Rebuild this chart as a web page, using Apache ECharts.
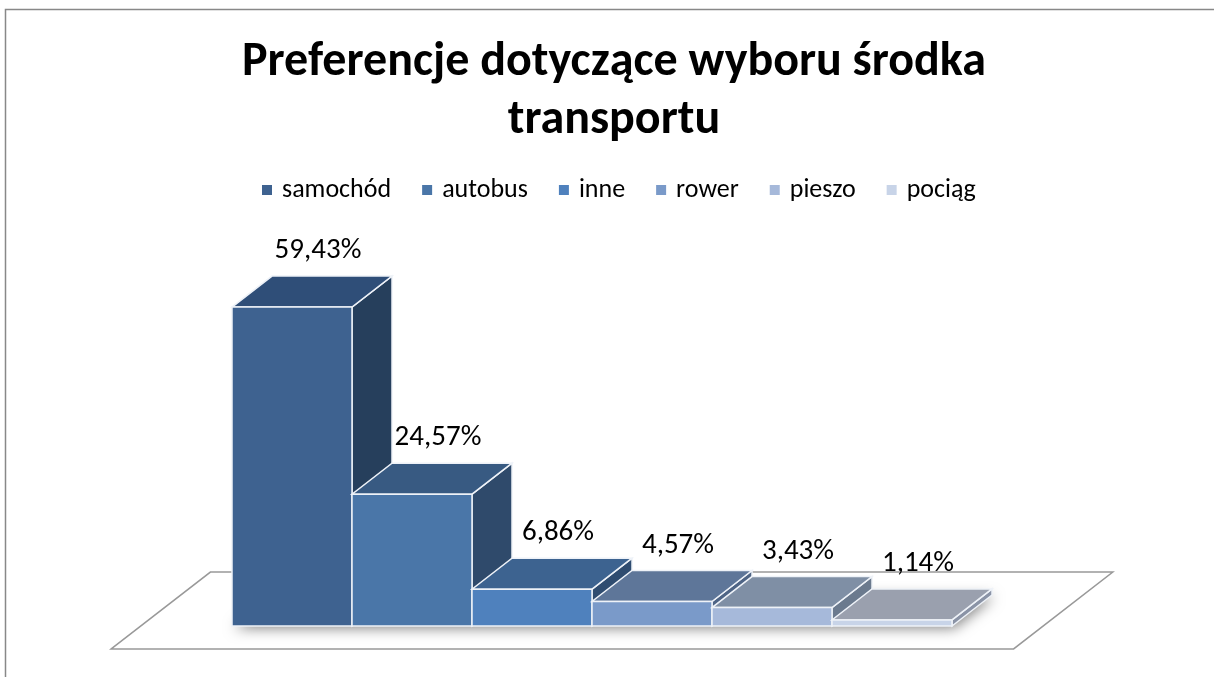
<!DOCTYPE html>
<html>
<head>
<meta charset="utf-8">
<script src="https://cdn.jsdelivr.net/npm/echarts@6/dist/echarts.min.js"></script>
<style>
  html, body { margin: 0; padding: 0; background: #fff; }
  #chart { width: 1214px; height: 677px; }
</style>
</head>
<body>
<div id="chart"></div>
<script>
// data
var categories = ['samochód', 'autobus', 'inne', 'rower', 'pieszo', 'pociąg'];
var values = [59.43, 24.57, 6.86, 4.57, 3.43, 1.14];

// colours of the three visible faces of each 3D bar
var frontColors = ['#3e6290', '#4a76a8', '#4f81bd', '#7a9ac9', '#a6b9da', '#c8d4e8'];
var topColors = ['#2f4e78', '#385a82', '#3d6390', '#5e7699', '#7f8fa5', '#9aa0ae'];
var sideColors = ['#263f5c', '#2f4a6b', '#2f4c70', '#4e6485', '#6b7a8e', '#8a93a6'];

var FONT = 'Carlito, Lato, "Open Sans", sans-serif';
// depth of a bar, relative to its width (oblique projection)
var DEPTH_X = 40 / 120;
var DEPTH_Y = 31 / 120;

function fmt(v) {
  return v.toFixed(2).replace('.', ',') + '%';
}

function renderBar(params, api) {
  var idx = api.value(0);
  var v = api.value(1);
  var p0 = api.coord([idx, 0]);
  var p1 = api.coord([idx + 1, v]);
  var w = p1[0] - p0[0];
  var dx = w * DEPTH_X, dy = w * DEPTH_Y;
  var edge = { stroke: '#eef2f8', lineWidth: 1.5 };
  return {
    type: 'group',
    children: [
      {
        type: 'polygon',
        shape: { points: [[p1[0], p1[1]], [p1[0] + dx, p1[1] - dy], [p1[0] + dx, p0[1] - dy], [p1[0], p0[1]]] },
        style: Object.assign({ fill: sideColors[idx] }, edge)
      },
      {
        type: 'polygon',
        shape: { points: [[p0[0], p1[1]], [p1[0], p1[1]], [p1[0] + dx, p1[1] - dy], [p0[0] + dx, p1[1] - dy]] },
        style: Object.assign({ fill: topColors[idx] }, edge)
      },
      {
        type: 'rect',
        shape: { x: p0[0], y: p1[1], width: w, height: p0[1] - p1[1] },
        style: Object.assign({ fill: frontColors[idx] }, edge)
      },
      {
        type: 'text',
        x: p0[0] + w / 2 + dx * 0.65,
        y: p1[1] - dy - 25,
        style: {
          text: fmt(v),
          fill: '#000',
          font: '29px ' + FONT,
          align: 'center',
          verticalAlign: 'middle'
        }
      }
    ]
  };
}

// floor plane and soft shadow under the bars
function renderFloor(params, api) {
  var n = categories.length;
  var L = api.coord([-0.76, 0]);
  var R = api.coord([n + 0.76, 0]);
  var b0 = api.coord([0, 0]);
  var b1 = api.coord([n, 0]);
  var w = api.size([1, 0])[0];
  var dx = w * DEPTH_X, dy = w * DEPTH_Y;
  var f = 0.74, bk = 1.74;
  return {
    type: 'group',
    children: [
      {
        type: 'polygon',
        shape: { points: [
          [L[0] - f * dx, L[1] + f * dy],
          [L[0] + bk * dx, L[1] - bk * dy],
          [R[0] + bk * dx, R[1] - bk * dy],
          [R[0] - f * dx, R[1] + f * dy]
        ] },
        style: { fill: '#fff', stroke: '#999', lineWidth: 1.5 }
      },
      {
        type: 'polygon',
        shape: { points: [
          [b0[0], b0[1]], [b0[0] + dx, b0[1] - dy], [b1[0] + dx, b1[1] - dy], [b1[0], b1[1]]
        ] },
        style: { fill: '#ddd', shadowColor: 'rgba(0,0,0,0.5)', shadowBlur: 14, shadowOffsetX: 2, shadowOffsetY: 2 }
      }
    ]
  };
}

var chart = echarts.init(document.getElementById('chart'));

var series = [{
  name: 'floor',
  type: 'custom',
  renderItem: renderFloor,
  data: [[0, 0]],
  silent: true,
  z: 1
}];
categories.forEach(function (name, i) {
  series.push({
    name: name,
    type: 'custom',
    renderItem: renderBar,
    itemStyle: { color: frontColors[i] },
    data: [[i, values[i]]],
    z: 2
  });
});

var option = {
  animation: false,
  backgroundColor: '#fff',
  title: {
    text: 'Preferencje dotyczące wyboru środka\ntransportu',
    left: 609,
    top: 29,
    textAlign: 'center',
    padding: 5,
    textStyle: { fontSize: 48, fontWeight: 'bold', fontFamily: FONT, color: '#000', lineHeight: 58 }
  },
  legend: {
    data: categories,
    top: 172,
    left: 257,
    padding: 5,
    icon: 'rect',
    itemWidth: 10,
    itemHeight: 10,
    itemGap: 31,
    textStyle: { fontSize: 26, fontFamily: FONT, color: '#000', padding: [0, 0, 0, 5] }
  },
  grid: { left: 232, right: 262, top: 304, bottom: 51 },
  xAxis: { type: 'value', min: 0, max: 6, show: false },
  yAxis: { type: 'value', min: 0, max: 60, show: false },
  graphic: [{
    type: 'rect',
    left: 3,
    top: 7,
    shape: { width: 1300, height: 720 },
    style: { fill: 'none', stroke: '#888', lineWidth: 1.5 },
    silent: true
  }],
  series: series
};

option && chart.setOption(option);
window.addEventListener('resize', function () { chart.resize(); });
</script>
</body>
</html>
